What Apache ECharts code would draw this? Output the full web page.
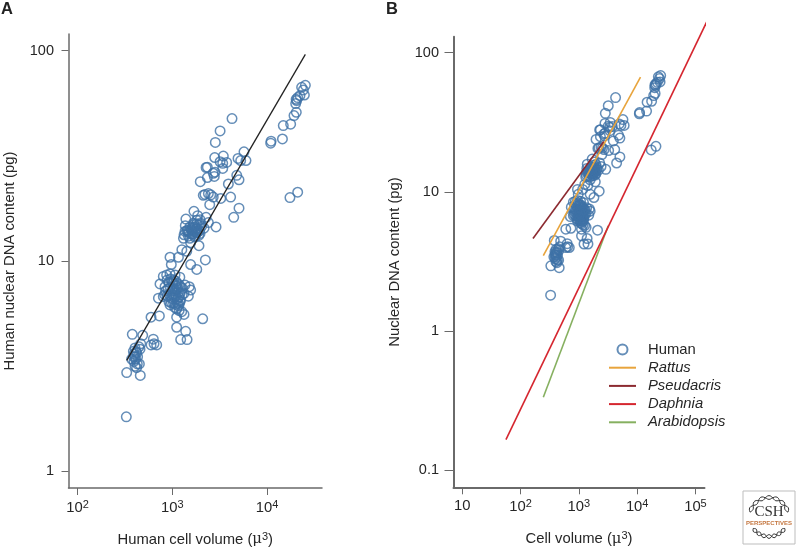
<!DOCTYPE html>
<html><head><meta charset="utf-8">
<style>html,body{margin:0;padding:0;background:#fff}#c{width:797px;height:548px}</style>
<script src="https://cdn.jsdelivr.net/npm/echarts@6/dist/echarts.min.js"></script>
</head><body><div id="c"></div>
<script>
const humanVolume = [25300,23100,24100,24700,22200,21000,20200,20500,20000,20300,19200,17700,14800,14500,11000,10900,4260,3190,2840,5700,4930,5260,5980,3450,2800,3190,3400,3740,3400,2340,2270,2700,2820,2770,2340,1970,4780,5050,3900,2120,2210,2400,2540,2700,3240,4120,2480,5050,4440,21000,17400,
1690,1850,1390,2270,1960,2400,1810,2890,1370,2160,1420,1600,1880,2040,1730,1930,1810,1640,1330,1480,1310,1710,1560,1910,1260,1420,945,1160,2230,975,1560,1810,1670,1530,1810,1990,1600,1960,1480,1730,1360,1530,1810,1700,1780,1640,1900,1500,1580,1840,1660,1750,1450,
803,871,945,1067,1200,741,837,713,803,945,1510,1560,1475,1360,1205,1157,1256,1328,1110,596,730,2090,1110,1383,1225,1430,378,487,630,684,596,641,464,456,404,388,421,404,372,394,427,449,404,330,459,327,
880,920,960,1000,1040,1090,1130,1180,1230,1280,850,900,950,990,1030,1070,1110,1160,1210,1270,1330,830,880,930,970,1010,1050,1090,1130,1170,1220,920,980,1030,1080,1130,1180,1010,1100,1050,1150,1000,1060,1110,1180,
395,410,415,430,390,420,445];
const humanDNA = [68.4,66.9,65.0,61.5,61.1,59.8,58.7,57.9,56.0,50.9,49.1,44.7,44.0,38.0,37.1,36.3,47.5,41.5,36.6,33.0,30.7,30.0,30.0,31.5,31.0,29.6,29.1,29.4,27.5,27.9,27.8,26.1,26.4,25.2,24.9,23.8,25.5,24.3,23.2,20.5,20.7,20.9,20.6,20.1,19.8,20.1,18.5,17.8,16.1,21.2,20.0,
17.2,16.4,15.8,16.1,15.7,15.2,15.6,14.5,14.7,14.3,13.9,14.0,14.8,14.6,14.5,13.9,13.6,13.4,13.3,13.1,12.8,13.0,12.2,11.8,11.3,11.1,10.4,10.4,10.1,9.6,9.6,9.1,15.1,14.5,15.0,15.1,13.5,13.5,13.8,13.8,13.8,12.8,14.3,14.9,14.1,14.4,13.2,13.6,14.2,13.7,13.9,13.1,14.0,
8.43,8.57,8.67,8.57,8.36,7.76,7.53,6.64,6.76,6.17,7.53,7.26,6.79,7.67,6.40,6.10,5.73,5.56,5.39,5.39,5.47,5.30,4.83,4.62,4.22,4.22,4.47,4.42,4.24,3.98,3.98,4.03,4.03,3.80,3.85,3.71,3.64,3.51,3.41,3.32,3.23,3.23,3.15,2.94,2.85,1.81,
8.1,7.9,8.2,8.0,8.1,8.0,7.8,7.7,7.5,7.4,7.2,7.3,7.5,7.2,7.4,7.2,7.3,7.1,7.0,6.9,7.0,6.9,6.8,6.9,6.7,6.9,6.7,6.8,6.6,6.7,6.5,6.4,6.3,6.3,6.2,6.3,6.2,7.8,7.6,7.0,7.4,6.6,6.0,5.9,5.8,
3.6,3.4,3.7,3.5,3.5,3.1,3.9];

const fitVolume = [330,25300];
const fitDNA = [3.36,96];
const rattusVolume = [245,11400];
const rattusDNA = [3.48,66.6];
const pseudacrisVolume = [163,2680];
const pseudacrisDNA = [4.62,23];
const daphniaVolume = [56,156000];
const daphniaDNA = [0.166,166];
const arabidopsisVolume = [245,3190];
const arabidopsisDNA = [0.335,5.7];

const xTicksA = [100,1000,10000];
const yTicksA = [1,10,100];
const xTicksB = [10,100,1000,10000,100000];
const yTicksB = [0.1,1,10,100];
const legendNames = ['Human','Rattus','Pseudacris','Daphnia','Arabidopsis'];

const zip = (a,b)=>a.map((v,i)=>[v,b[i]]);
const BLUE='#3f72a6', INK='#262626', AXIS='#6a6a6a';
const FONT='"Liberation Sans", Arial, sans-serif';
const powLabel = v => { const e=Math.round(Math.log10(v)); return e===1?'{n|10}':`{n|10}{s|${e}}`; };
const richText = {
  n:{fontSize:14.8,color:INK,fontFamily:FONT,verticalAlign:'bottom'},
  s:{fontSize:11,color:INK,fontFamily:FONT,verticalAlign:'bottom',padding:[0,0,5,0]},
  m:{fontSize:14.8,color:INK,fontFamily:'"DejaVu Serif",serif',verticalAlign:'bottom'}
};
function xAxis(idx,min,max,ticks,name,w){
  return {type:'log',gridIndex:idx,logBase:10,min,max,
    name,nameLocation:'middle',nameGap:43,
    nameTextStyle:{rich:richText},
    axisLine:{show:true,onZero:false,lineStyle:{color:AXIS,width:w}},
    axisTick:{show:true,length:7,customValues:ticks,lineStyle:{color:AXIS,width:1}},
    axisLabel:{show:true,customValues:ticks,margin:11,formatter:powLabel,rich:richText},
    minorTick:{show:false},splitLine:{show:false},minorSplitLine:{show:false}};
}
function yAxis(idx,min,max,ticks,name,w,tickLen){
  return {type:'log',gridIndex:idx,logBase:10,min,max,
    name,nameLocation:'middle',nameGap:51,
    nameTextStyle:{fontSize:14.8,color:INK,fontFamily:FONT},
    axisLine:{show:true,onZero:false,lineStyle:{color:AXIS,width:w}},
    axisTick:{show:true,length:tickLen,customValues:ticks,lineStyle:{color:AXIS,width:1}},
    axisLabel:{show:true,customValues:ticks,margin:14.5,fontSize:14.5,color:INK,fontFamily:FONT,formatter:v=>String(v)},
    minorTick:{show:false},splitLine:{show:false},minorSplitLine:{show:false}};
}
const scatter=(name,i)=>({name,type:'scatter',xAxisIndex:i,yAxisIndex:i,data:zip(humanVolume,humanDNA),
  symbol:'circle',symbolSize:9.5,silent:true,clip:false,
  itemStyle:{color:'rgba(255,255,255,0)',borderColor:BLUE,borderWidth:1.5}});
const line=(name,i,xs,ys,color,w)=>({name,type:'line',xAxisIndex:i,yAxisIndex:i,data:zip(xs,ys),
  showSymbol:false,symbol:'none',clip:false,silent:true,lineStyle:{color,width:w},itemStyle:{color}});

const logo=[{type:'rect',shape:{x:743,y:491,width:52,height:53},style:{fill:'#fff',stroke:'#bdbdbd',lineWidth:1}}];
function helixPts(r0,amp,a0,a1,phase){
  const pts=[];
  for(let k=0;k<=40;k++){const t=a0+(a1-a0)*k/40;
    const r=r0+amp*Math.sin(phase+(k/40)*Math.PI*7);
    pts.push([769+r*Math.cos(t),517+r*Math.sin(t)]);}
  return pts;
}
[[Math.PI*1.08,Math.PI*1.92],[Math.PI*0.2,Math.PI*0.8]].forEach(([a,b])=>{
  [0,Math.PI].forEach(p=>logo.push({type:'polyline',shape:{points:helixPts(19.5,1.9,a,b,p)},style:{fill:null,stroke:'#333',lineWidth:1}}));
});
logo.push({type:'text',x:769,y:512,style:{text:'CSH',fontFamily:'"Liberation Serif",serif',fontSize:15,fill:'#333',textAlign:'center',textVerticalAlign:'middle'}});
logo.push({type:'text',x:769,y:523,style:{text:'PERSPECTIVES',fontFamily:FONT,fontSize:6,fontWeight:'bold',fill:'#c4763f',textAlign:'center',textVerticalAlign:'middle'}});

const chart=echarts.init(document.getElementById('c'),null,{renderer:'canvas'});
chart.setOption({
  animation:false,backgroundColor:'#fff',textStyle:{fontFamily:FONT},
  title:[
    {text:'A',left:1,top:1,padding:0,textStyle:{fontSize:16.5,fontWeight:'bold',color:'#222',fontFamily:FONT}},
    {text:'B',left:386,top:1,padding:0,textStyle:{fontSize:16.5,fontWeight:'bold',color:'#222',fontFamily:FONT}}
  ],
  grid:[{left:68.5,top:34,width:253.5,height:454,outerBoundsMode:'none'},{left:453.5,top:36.7,width:251,height:450.6,outerBoundsMode:'none'}],
  xAxis:[
    xAxis(0,80.3,37900,xTicksA,'{n|Human cell volume (}{m|μ}{s|3}{n|)}',1.5),
    xAxis(1,7.05,143000,xTicksB,'{n|Cell volume (}{m|μ}{s|3}{n|)}',2)
  ],
  yAxis:[
    yAxis(0,0.83,120,yTicksA,'Human nuclear DNA content (pg)',1.5,7),
    yAxis(1,0.0755,130,yTicksB,'Nuclear DNA content (pg)',2,9)
  ],
  legend:{left:608,top:342,padding:0,orient:'vertical',itemWidth:27,itemHeight:10,itemGap:3.2,selectedMode:false,
    textStyle:{fontSize:14.8,color:INK,fontFamily:FONT,padding:[0,0,0,7]},
    data:legendNames.map((n,i)=>({name:n,textStyle:{fontStyle:i?'italic':'normal'},itemStyle:i?{opacity:0}:undefined}))},
  graphic:logo,
  series:[
    scatter('Human cells',0),
    line('Fit',0,fitVolume,fitDNA,'#222',1.3),
    scatter('Human',1),
    line('Arabidopsis',1,arabidopsisVolume,arabidopsisDNA,'#86b060',1.6),
    line('Daphnia',1,daphniaVolume,daphniaDNA,'#d5262f',1.6),
    line('Pseudacris',1,pseudacrisVolume,pseudacrisDNA,'#8c2a30',1.6),
    line('Rattus',1,rattusVolume,rattusDNA,'#e8a43c',1.6)
  ]
});
</script></body></html>
